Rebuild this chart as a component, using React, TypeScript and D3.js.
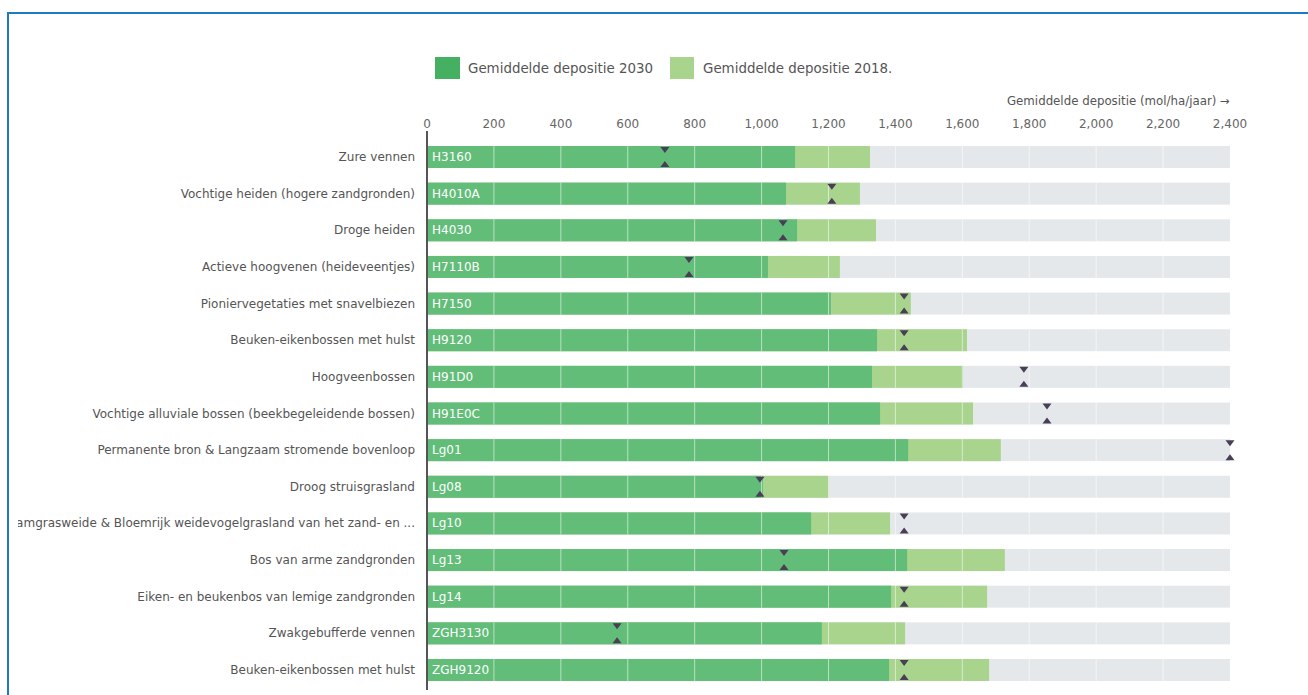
import * as React from 'react';
import * as d3 from 'd3';

const codes = ['H3160', 'H4010A', 'H4030', 'H7110B', 'H7150', 'H9120', 'H91D0', 'H91E0C', 'Lg01', 'Lg08', 'Lg10', 'Lg13', 'Lg14', 'ZGH3130', 'ZGH9120'];
const names = [
  'Zure vennen',
  'Vochtige heiden (hogere zandgronden)',
  'Droge heiden',
  'Actieve hoogvenen (heideveentjes)',
  'Pioniervegetaties met snavelbiezen',
  'Beuken-eikenbossen met hulst',
  'Hoogveenbossen',
  'Vochtige alluviale bossen (beekbegeleidende bossen)',
  'Permanente bron & Langzaam stromende bovenloop',
  'Droog struisgrasland',
  'Kamgrasweide & Bloemrijk weidevogelgrasland van het zand- en ...',
  'Bos van arme zandgronden',
  'Eiken- en beukenbos van lemige zandgronden',
  'Zwakgebufferde vennen',
  'Beuken-eikenbossen met hulst',
];
const dep2030 = [1100, 1073, 1106, 1019, 1207, 1345, 1330, 1354, 1438, 1004, 1148, 1435, 1387, 1180, 1381];
const dep2018 = [1324, 1294, 1342, 1234, 1446, 1614, 1602, 1632, 1715, 1201, 1384, 1727, 1674, 1429, 1680];
const kdw = [711, 1210, 1064, 783, 1426, 1426, 1784, 1853, 2400, 995, 1426, 1067, 1426, 568, 1426];
const ticks = [0, 200, 400, 600, 800, 1000, 1200, 1400, 1600, 1800, 2000, 2200, 2400];

const DARK = '#62bd79';
const LIGHT = '#a8d48d';
const GREY = '#e5e8ea';
const MARK = '#4a3d57';
const FONT = '"DejaVu Sans", Verdana, sans-serif';

export default function App() {
  const x = d3.scaleLinear().domain([0, 2400]).range([427, 1230]);
  const y = d3.scaleBand<string>().domain(codes).range([138.7, 688.3]).paddingInner(0.4).paddingOuter(0.2);
  const bw = y.bandwidth();
  const fmt = d3.format(',');
  const tri = 4.5;

  return (
    <div style={{ position: 'absolute', left: 0, top: 0, width: 1308, height: 695, background: '#fff' }}>
      <svg width={1308} height={695} style={{ display: 'block', fontFamily: FONT }}>
        <defs>
          <clipPath id="lab">
            <rect x={18} y={0} width={1290} height={695} />
          </clipPath>
        </defs>
        {/* frame */}
        <line x1={7} x2={1308} y1={13} y2={13} stroke="#1f7bbf" strokeWidth={2} />
        <line x1={8} x2={8} y1={13} y2={695} stroke="#1f7bbf" strokeWidth={2} />

        {/* legend */}
        <rect x={435} y={57} width={25} height={22} fill="#45b062" />
        <text x={468} y={73} fontSize={13.4} fill="#555">Gemiddelde depositie 2030</text>
        <rect x={670} y={57} width={24} height={22} fill={LIGHT} />
        <text x={703} y={73} fontSize={13.4} fill="#555">Gemiddelde depositie 2018.</text>

        {/* axis title + ticks */}
        <text x={1230} y={105} fontSize={11.8} fill="#555" textAnchor="end">Gemiddelde depositie (mol/ha/jaar) →</text>
        {ticks.map((t) => (
          <text key={t} x={x(t)} y={128} fontSize={12} fill="#666" textAnchor="middle">{fmt(t)}</text>
        ))}

        {/* bars */}
        {codes.map((c, i) => {
          const y0 = y(c)!;
          return (
            <g key={c}>
              <rect x={x(0)} y={y0} width={x(2400) - x(0)} height={bw} fill={GREY} />
              <rect x={x(0)} y={y0} width={x(dep2018[i]) - x(0)} height={bw} fill={LIGHT} />
              <rect x={x(0)} y={y0} width={x(dep2030[i]) - x(0)} height={bw} fill={DARK} />
              {ticks.slice(1, -1).map((t) => (
                <line key={t} x1={x(t)} x2={x(t)} y1={y0} y2={y0 + bw} stroke="#fff" strokeOpacity={0.55} strokeWidth={1} />
              ))}
              <text x={x(0) + 5} y={y0 + bw / 2 + 4} fontSize={12} fill="#fff">{c}</text>
              <g clipPath="url(#lab)">
                <text x={415} y={y0 + bw / 2 + 4} fontSize={12} fill="#555" textAnchor="end">{names[i]}</text>
              </g>
              <path
                d={`M${x(kdw[i]) - tri},${y0 + 1} L${x(kdw[i]) + tri},${y0 + 1} L${x(kdw[i])},${y0 + 7} Z`}
                fill={MARK}
              />
              <path
                d={`M${x(kdw[i]) - tri},${y0 + bw - 1} L${x(kdw[i]) + tri},${y0 + bw - 1} L${x(kdw[i])},${y0 + bw - 7} Z`}
                fill={MARK}
              />
            </g>
          );
        })}

        <line x1={427} x2={427} y1={131} y2={690} stroke="#555" strokeWidth={2} />
      </svg>
    </div>
  );
}
